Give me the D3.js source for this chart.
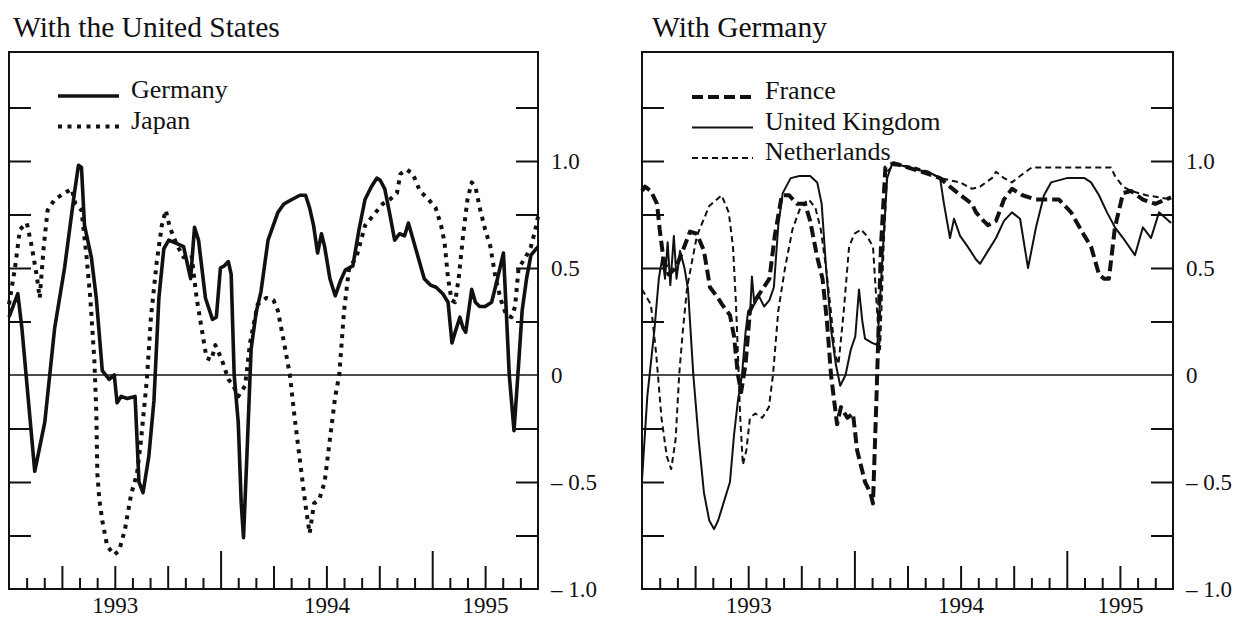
<!DOCTYPE html>
<html>
<head>
<meta charset="utf-8">
<script src="https://cdn.jsdelivr.net/npm/d3@7"></script>
<style>
  html, body { margin: 0; padding: 0; background: #fff; }
  svg { display: block; }
  text { font-family: "Liberation Serif", "Times New Roman", serif; fill: #111; }
</style>
</head>
<body>
<svg id="chart" width="1235" height="618"></svg>
<script>
// ---------- DATA (x = months since Jan 1993, y = correlation) ----------
const panelTitles = ["With the United States", "With Germany"];
const yearLabels = ["1993", "1994", "1995"];
const yearLabelMonths = [6, 18, 27];
const yLabelValues = [1.0, 0.5, 0, -0.5, -1.0];
const yLabelTexts = ["1.0", "0.5", "0", "\u2013 0.5", "\u2013 1.0"];
const yMinorTicks = [-0.75, -0.5, -0.25, 0.25, 0.5, 0.75, 1.0, 1.25];

const germanyUS = [[0,0.27],[0.5,0.38],[0.73,0.22],[1.46,-0.45],[2.03,-0.22],[2.59,0.22],[3.15,0.5],[3.71,0.85],[3.94,0.98],[4.11,0.97],[4.28,0.7],[4.67,0.55],[4.95,0.36],[5.29,0.02],[5.68,-0.02],[5.97,0.0],[6.13,-0.13],[6.36,-0.1],[6.7,-0.11],[7.15,-0.1],[7.37,-0.5],[7.6,-0.55],[7.93,-0.38],[8.22,-0.12],[8.5,0.36],[8.78,0.59],[9.06,0.63],[9.62,0.61],[9.9,0.6],[10.3,0.45],[10.52,0.69],[10.75,0.63],[11.14,0.36],[11.54,0.26],[11.76,0.27],[11.99,0.5],[12.21,0.51],[12.44,0.53],[12.6,0.47],[12.77,0.0],[13.0,-0.22],[13.17,-0.6],[13.3,-0.76],[13.5,-0.36],[13.73,0.12],[14.01,0.29],[14.29,0.39],[14.69,0.63],[15.25,0.76],[15.6,0.8],[16.04,0.82],[16.5,0.84],[16.82,0.84],[17.05,0.78],[17.27,0.7],[17.5,0.57],[17.72,0.66],[17.9,0.6],[18.2,0.45],[18.5,0.37],[18.8,0.44],[19.07,0.49],[19.5,0.51],[19.85,0.68],[20.19,0.82],[20.55,0.88],[20.86,0.92],[21.05,0.91],[21.31,0.87],[21.6,0.75],[21.87,0.63],[22.15,0.66],[22.43,0.65],[22.65,0.71],[23.1,0.58],[23.55,0.45],[23.9,0.42],[24.22,0.41],[24.6,0.38],[24.9,0.34],[25.12,0.15],[25.3,0.2],[25.57,0.27],[25.75,0.22],[25.9,0.2],[26.24,0.4],[26.45,0.34],[26.69,0.32],[27.0,0.32],[27.37,0.34],[27.7,0.45],[28.04,0.57],[28.2,0.3],[28.37,0.0],[28.64,-0.26],[28.9,0.05],[29.1,0.3],[29.35,0.45],[29.6,0.56],[30,0.6]];

const japanUS = [[0,0.33],[0.34,0.5],[0.62,0.68],[1.01,0.71],[1.29,0.6],[1.58,0.46],[1.74,0.36],[1.97,0.6],[2.19,0.77],[2.59,0.82],[3.15,0.85],[3.55,0.87],[3.77,0.8],[4.11,0.77],[4.39,0.56],[4.61,0.36],[4.84,0.07],[4.95,-0.17],[5.01,-0.46],[5.12,-0.58],[5.29,-0.68],[5.57,-0.8],[5.97,-0.84],[6.25,-0.82],[6.58,-0.72],[6.92,-0.56],[7.26,-0.46],[7.48,-0.31],[7.82,-0.02],[8.05,0.27],[8.38,0.53],[8.67,0.7],[8.89,0.77],[9.12,0.69],[9.51,0.61],[9.9,0.55],[10.35,0.56],[10.64,0.36],[10.92,0.22],[11.2,0.08],[11.48,0.07],[11.7,0.14],[11.87,0.11],[12.16,0.05],[12.44,-0.02],[12.72,-0.05],[13.0,-0.1],[13.39,-0.05],[13.67,0.15],[14.1,0.33],[14.6,0.36],[15.0,0.35],[15.25,0.3],[15.6,0.15],[15.93,0.0],[16.2,-0.2],[16.5,-0.4],[16.8,-0.6],[17.05,-0.74],[17.3,-0.6],[17.6,-0.58],[17.9,-0.5],[18.2,-0.3],[18.5,-0.1],[18.73,0.0],[19.0,0.3],[19.29,0.5],[19.7,0.55],[20.2,0.7],[20.7,0.75],[21.2,0.8],[21.6,0.82],[22.0,0.85],[22.2,0.94],[22.55,0.96],[22.9,0.94],[23.3,0.86],[23.8,0.82],[24.2,0.78],[24.5,0.7],[24.7,0.62],[24.9,0.45],[25.1,0.35],[25.3,0.34],[25.5,0.45],[25.75,0.65],[26.0,0.82],[26.24,0.9],[26.45,0.88],[26.7,0.78],[27.0,0.68],[27.3,0.6],[27.6,0.45],[27.9,0.35],[28.2,0.28],[28.5,0.27],[28.7,0.32],[28.9,0.5],[29.3,0.55],[29.6,0.6],[29.85,0.68],[30,0.74]];

const franceDE = [[0,0.86],[0.17,0.88],[0.5,0.86],[0.85,0.8],[1.0,0.68],[1.2,0.55],[1.5,0.47],[1.9,0.5],[2.3,0.58],[2.71,0.67],[3.1,0.66],[3.5,0.58],[3.84,0.41],[4.29,0.36],[4.52,0.33],[4.97,0.28],[5.2,0.18],[5.42,0.0],[5.6,-0.08],[5.85,0.05],[6.1,0.3],[6.4,0.35],[6.8,0.4],[7.2,0.45],[7.5,0.65],[7.9,0.84],[8.3,0.84],[8.76,0.8],[9.21,0.8],[9.5,0.72],[9.9,0.55],[10.2,0.45],[10.45,0.25],[10.68,0.0],[10.9,-0.15],[11.02,-0.23],[11.24,-0.15],[11.6,-0.2],[11.92,-0.18],[12.15,-0.35],[12.6,-0.5],[12.9,-0.55],[13.05,-0.6],[13.25,-0.1],[13.5,0.6],[13.75,0.97],[14.2,0.99],[14.63,0.98],[15.4,0.96],[16.16,0.94],[16.84,0.92],[17.4,0.88],[18.0,0.84],[18.64,0.8],[18.87,0.76],[19.3,0.72],[19.55,0.7],[20.0,0.72],[20.45,0.82],[20.9,0.87],[21.5,0.84],[22.26,0.82],[23.56,0.82],[24.24,0.76],[25.0,0.65],[25.37,0.6],[25.82,0.47],[26.1,0.45],[26.38,0.45],[26.72,0.69],[27.18,0.85],[27.63,0.86],[28.3,0.82],[29.0,0.8],[29.89,0.83]];

const ukDE = [[0,-0.49],[0.3,-0.1],[0.7,0.21],[0.95,0.45],[1.15,0.55],[1.3,0.45],[1.45,0.62],[1.6,0.42],[1.8,0.65],[1.95,0.45],[2.15,0.58],[2.4,0.5],[2.6,0.4],[2.9,0.0],[3.2,-0.3],[3.5,-0.55],[3.8,-0.68],[4.07,-0.72],[4.3,-0.68],[4.6,-0.6],[4.97,-0.5],[5.2,-0.28],[5.42,-0.12],[5.65,0.0],[5.85,0.2],[6.0,0.3],[6.1,0.28],[6.21,0.46],[6.35,0.33],[6.6,0.37],[6.9,0.32],[7.2,0.35],[7.45,0.41],[7.7,0.7],[7.95,0.85],[8.4,0.92],[8.9,0.93],[9.5,0.93],[9.9,0.9],[10.15,0.8],[10.4,0.5],[10.7,0.2],[10.95,0.05],[11.2,-0.05],[11.5,0.0],[11.8,0.12],[12.05,0.18],[12.26,0.4],[12.45,0.25],[12.6,0.17],[13.0,0.15],[13.3,0.14],[13.55,0.5],[13.85,0.92],[14.1,0.98],[14.63,0.98],[15.4,0.96],[16.16,0.95],[16.84,0.92],[17.06,0.8],[17.4,0.64],[17.63,0.73],[17.97,0.65],[18.4,0.6],[18.87,0.54],[19.1,0.52],[19.55,0.58],[20.0,0.64],[20.45,0.72],[20.9,0.76],[21.36,0.73],[21.81,0.5],[22.26,0.69],[22.71,0.84],[23.11,0.9],[24.0,0.92],[25.0,0.92],[25.37,0.9],[25.82,0.84],[26.27,0.76],[26.72,0.69],[27.18,0.64],[27.85,0.56],[28.3,0.69],[28.76,0.64],[29.21,0.76],[29.89,0.71]];

const netherlandsDE = [[0,0.4],[0.5,0.33],[0.8,0.1],[1.1,-0.2],[1.4,-0.38],[1.65,-0.44],[1.9,-0.3],[2.1,0.0],[2.3,0.2],[2.55,0.41],[3.1,0.65],[3.8,0.79],[4.5,0.84],[4.9,0.76],[5.14,0.6],[5.3,0.35],[5.42,0.1],[5.55,-0.2],[5.7,-0.42],[5.9,-0.35],[6.1,-0.2],[6.4,-0.18],[6.8,-0.2],[7.17,-0.15],[7.4,0.0],[7.7,0.3],[8.08,0.5],[8.5,0.68],[8.98,0.79],[9.43,0.82],[9.8,0.78],[10.1,0.68],[10.4,0.5],[10.67,0.3],[10.9,0.1],[11.1,0.05],[11.4,0.3],[11.7,0.6],[12.0,0.66],[12.37,0.68],[12.7,0.65],[13.05,0.6],[13.28,0.3],[13.45,0.12],[13.65,0.6],[13.85,0.95],[14.2,0.98],[14.63,0.98],[15.4,0.97],[16.16,0.95],[16.84,0.92],[17.4,0.91],[17.97,0.9],[18.64,0.87],[19.1,0.88],[19.77,0.92],[20.0,0.95],[20.45,0.92],[20.9,0.9],[21.36,0.93],[22.03,0.97],[23.0,0.97],[24.0,0.97],[25.0,0.97],[26.0,0.97],[26.5,0.97],[26.72,0.93],[27.18,0.88],[27.63,0.86],[28.5,0.84],[29.89,0.82]];

const leftSeries = [
  { name: "Germany", data: germanyUS, style: "thickSolid" },
  { name: "Japan", data: japanUS, style: "thickDot" }
];
const rightSeries = [
  { name: "France", data: franceDE, style: "thickDash" },
  { name: "United Kingdom", data: ukDE, style: "thinSolid" },
  { name: "Netherlands", data: netherlandsDE, style: "thinDash" }
];

// ---------- STYLES ----------
const lineStyles = {
  thickSolid: { width: 3.6, dash: null },
  thickDot:   { width: 4,   dash: "4,5.5" },
  thickDash:  { width: 4,   dash: "11,5" },
  thinSolid:  { width: 2,   dash: null },
  thinDash:   { width: 2,   dash: "6,4" }
};

// ---------- LAYOUT ----------
const svg = d3.select("#chart");
const ink = "#111";
const yTop = 52, yBottom = 589;
const y = d3.scaleLinear().domain([-1, 1]).range([yBottom, 375 - (yBottom - 375)]);

const panels = [
  { x0: 9,   x1: 538,  title: panelTitles[0], titleX: 13, series: leftSeries,
    legendX: 58, legendY: 96 },
  { x0: 642, x1: 1173, title: panelTitles[1], titleX: 652, series: rightSeries,
    legendX: 692, legendY: 97 }
];

panels.forEach(p => {
  const g = svg.append("g");
  const x = d3.scaleLinear().domain([0, 30]).range([p.x0, p.x1]);

  // title
  g.append("text").attr("x", p.titleX).attr("y", 37)
    .attr("font-size", 29.5).text(p.title);

  // zero line
  g.append("line").attr("x1", p.x0).attr("x2", p.x1)
    .attr("y1", y(0)).attr("y2", y(0))
    .attr("stroke", ink).attr("stroke-width", 1.6);

  // series
  const line = d3.line().x(d => x(d[0])).y(d => y(d[1]));
  p.series.forEach(s => {
    const st = lineStyles[s.style];
    g.append("path").datum(s.data).attr("d", line)
      .attr("fill", "none").attr("stroke", ink)
      .attr("stroke-width", st.width)
      .attr("stroke-linejoin", "round")
      .attr("stroke-dasharray", st.dash);
  });

  // bottom ticks (inward)
  const mkBottom = (vals, len) => {
    const ax = d3.axisBottom(x).tickValues(vals).tickSize(-len).tickFormat("");
    const a = g.append("g").attr("transform", `translate(0,${yBottom})`).call(ax);
    a.select(".domain").remove();
    a.selectAll("line").attr("stroke", ink).attr("stroke-width", 2);
  };
  const allMonths = d3.range(1, 30);
  mkBottom(allMonths.filter(m => m % 3 !== 0), 11);
  mkBottom(allMonths.filter(m => m % 3 === 0 && m % 12 !== 0), 23);
  mkBottom(allMonths.filter(m => m % 12 === 0), 38);

  // year labels
  const axYear = d3.axisBottom(x).tickValues(yearLabelMonths).tickSize(0).tickPadding(8)
    .tickFormat((d, i) => yearLabels[i]);
  const ay = g.append("g").attr("transform", `translate(0,${yBottom})`).call(axYear);
  ay.select(".domain").remove();
  ay.selectAll("text").attr("font-size", 23)
    .attr("font-family", "Liberation Serif, Times New Roman, serif").attr("fill", ink);

  // left/right y ticks (inward)
  const axL = d3.axisLeft(y).tickValues(yMinorTicks).tickSize(-22).tickFormat("");
  const al = g.append("g").attr("transform", `translate(${p.x0},0)`).call(axL);
  al.select(".domain").remove();
  al.selectAll("line").attr("stroke", ink).attr("stroke-width", 2);
  const axR = d3.axisRight(y).tickValues(yMinorTicks).tickSize(-22).tickFormat("");
  const ar = g.append("g").attr("transform", `translate(${p.x1},0)`).call(axR);
  ar.select(".domain").remove();
  ar.selectAll("line").attr("stroke", ink).attr("stroke-width", 2);

  // right labels
  const axLab = d3.axisRight(y).tickValues(yLabelValues).tickSize(0).tickPadding(13)
    .tickFormat((d, i) => yLabelTexts[i]);
  const alab = g.append("g").attr("transform", `translate(${p.x1},0)`).call(axLab);
  alab.select(".domain").remove();
  alab.selectAll("text").attr("font-size", 23)
    .attr("font-family", "Liberation Serif, Times New Roman, serif").attr("fill", ink);

  // frame
  g.append("rect").attr("x", p.x0).attr("y", yTop)
    .attr("width", p.x1 - p.x0).attr("height", yBottom - yTop)
    .attr("fill", "none").attr("stroke", ink).attr("stroke-width", 2);

  // legend
  p.series.forEach((s, i) => {
    const st = lineStyles[s.style];
    const ly = p.legendY + i * 30.5;
    g.append("line").attr("x1", p.legendX).attr("x2", p.legendX + 61)
      .attr("y1", ly).attr("y2", ly)
      .attr("stroke", ink).attr("stroke-width", st.width)
      .attr("stroke-dasharray", st.dash);
    g.append("text").attr("x", p.legendX + 73).attr("y", ly + 2)
      .attr("font-size", 26).text(s.name);
  });
});
</script>
</body>
</html>
